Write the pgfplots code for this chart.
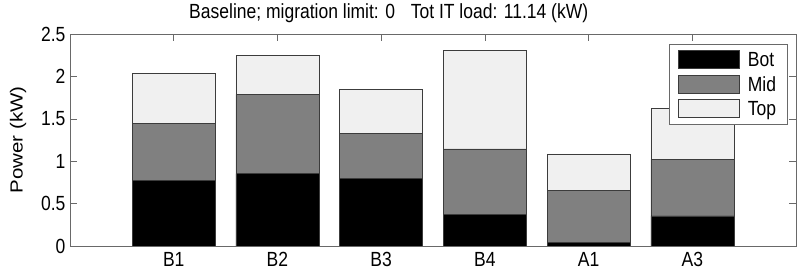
\documentclass[border=0pt]{standalone}
\usepackage{fontspec}
\setmainfont{Liberation Sans}
\usepackage{pgfplots}
\pgfplotsset{compat=1.18}
\definecolor{midgray}{RGB}{128,128,128}
\definecolor{topgray}{RGB}{240,240,240}
\definecolor{edgegray}{RGB}{60,60,60}
\definecolor{axisgray}{RGB}{105,105,105}
\newcommand\chartfont{\fontsize{17.5bp}{21bp}\selectfont}
\newcommand\vs[1]{\scalebox{1}[1.17]{#1}}
\begin{document}
\begin{tikzpicture}
\path[use as bounding box] (-70bp,-28bp) rectangle (731bp,246bp);
\begin{axis}[
  scale only axis, width=726bp, height=212bp,
  xmin=0, xmax=7, ymin=0, ymax=2.5,
  ybar stacked, bar width=0.8,
  xtick={1,2,3,4,5,6}, xticklabels={\vs{B1},\vs{B2},\vs{B3},\vs{B4},\vs{A1},\vs{A3}},
  ytick={0,0.5,1,1.5,2,2.5},
  yticklabels={\vs{0},\vs{0.5},\vs{1},\vs{1.5},\vs{2},\vs{2.5}},
  /pgf/number format/assume math mode=true,
  tick align=inside, major tick length=7bp,
  xtick pos=both, ytick pos=both,
  axis line style={axisgray, line width=0.6pt},
  tick style={axisgray, line width=0.6pt},
  ticklabel style={font=\chartfont},
  xticklabel style={yshift=-3bp},
  yticklabel style={xshift=-1bp},
  ylabel={\scalebox{1.17}[1]{Power (kW)}},
  ylabel style={font=\chartfont, at={(axis description cs:-0.0716,0.5)}, anchor=center},
  title={\vs{Baseline; migration limit: 0\hspace{0.9em}Tot IT load: 11.14 (kW)}},
  title style={font=\chartfont, at={(axis description cs:0.439,1.045)}, anchor=base},
  legend style={at={(axis description cs:0.988,0.953)}, anchor=north east,
    draw=axisgray, fill=white, font=\chartfont, legend cell align=left,
    nodes={text depth=0pt},
    row sep=6bp, inner xsep=9bp, inner ysep=6bp,
    /tikz/every odd column/.append style={column sep=6bp}},
  legend image code/.code={\draw[#1] (0bp,-9bp) rectangle (61bp,9bp);},
]
\addplot[fill=black, draw=edgegray, line width=0.5pt] coordinates {(1,0.778) (2,0.853) (3,0.798) (4,0.369) (5,0.039) (6,0.354)};
\addplot[fill=midgray, draw=edgegray, line width=0.5pt] coordinates {(1,0.664) (2,0.936) (3,0.526) (4,0.775) (5,0.621) (6,0.668)};
\addplot[fill=topgray, draw=edgegray, line width=0.5pt] coordinates {(1,0.594) (2,0.455) (3,0.519) (4,1.159) (5,0.425) (6,0.602)};
\legend{\vs{Bot},\vs{Mid},\vs{Top}}
\end{axis}
\end{tikzpicture}
\end{document}
